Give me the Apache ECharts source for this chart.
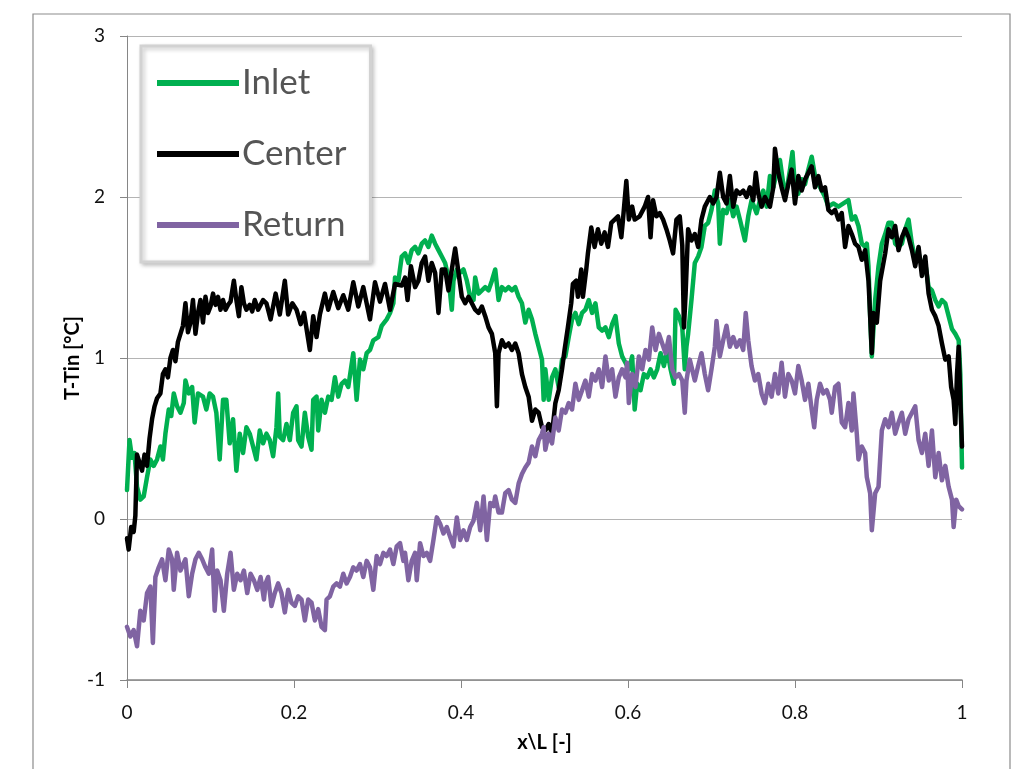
<!DOCTYPE html>
<html>
<head>
<meta charset="utf-8">
<script src="https://cdn.jsdelivr.net/npm/echarts@6/dist/echarts.min.js"></script>
<style>
  html, body { margin: 0; padding: 0; background: #ffffff; }
  #chart { width: 1022px; height: 769px; }
</style>
</head>
<body>
<div id="chart"></div>
<script>
// Temperature rise along the channel, T - Tin, against normalised position x/L.
const seriesNames = ['Inlet', 'Center', 'Return'];
const xTicks = [0, 0.2, 0.4, 0.6, 0.8, 1];
const yTicks = [-1, 0, 1, 2, 3];

const inlet = [
  [0.000,0.18],[0.003,0.49],[0.006,0.38],[0.009,0.41],[0.012,0.20],[0.016,0.12],[0.020,0.14],[0.024,0.26],[0.028,0.37],[0.032,0.33],
  [0.036,0.37],[0.040,0.45],[0.043,0.37],[0.046,0.53],[0.050,0.68],[0.053,0.64],[0.056,0.78],[0.060,0.70],[0.064,0.66],[0.068,0.72],
  [0.070,0.86],[0.074,0.78],[0.078,0.82],[0.081,0.60],[0.085,0.78],[0.091,0.76],[0.095,0.68],[0.099,0.78],[0.103,0.76],[0.107,0.66],
  [0.111,0.37],[0.115,0.74],[0.119,0.74],[0.123,0.47],[0.127,0.62],[0.131,0.30],[0.135,0.53],[0.139,0.41],[0.143,0.57],[0.147,0.53],
  [0.151,0.45],[0.155,0.37],[0.159,0.55],[0.163,0.47],
  [0.167,0.53],[0.171,0.49],[0.175,0.39],[0.179,0.57],[0.181,0.78],[0.183,0.51],[0.187,0.49],[0.191,0.59],[0.195,0.49],[0.199,0.66],
  [0.203,0.70],[0.205,0.49],[0.209,0.45],[0.213,0.66],[0.217,0.51],[0.221,0.43],[0.223,0.74],[0.227,0.76],[0.229,0.55],[0.233,0.74],
  [0.237,0.66],[0.241,0.76],[0.245,0.74],[0.249,0.88],[0.253,0.76],[0.257,0.84],[0.261,0.86],[0.265,0.82],[0.271,1.03],[0.275,0.74],
  [0.279,0.99],[0.283,0.93],[0.287,1.03],[0.291,1.05],[0.295,1.11],[0.301,1.13],[0.305,1.20],[0.311,1.24],[0.315,1.28],[0.319,1.34],
  [0.321,1.50],[0.325,1.48],[0.329,1.63],
  [0.333,1.65],[0.337,1.59],[0.341,1.67],[0.345,1.69],[0.349,1.65],[0.353,1.71],[0.357,1.73],[0.361,1.69],[0.365,1.76],[0.369,1.71],
  [0.373,1.67],[0.377,1.63],[0.381,1.59],[0.385,1.50],[0.389,1.30],[0.391,1.48],[0.395,1.55],[0.399,1.53],[0.403,1.55],[0.407,1.48],
  [0.411,1.38],[0.415,1.36],[0.417,1.50],[0.421,1.40],[0.425,1.42],[0.429,1.44],[0.433,1.42],[0.437,1.48],[0.441,1.55],[0.445,1.36],
  [0.449,1.44],[0.453,1.42],[0.457,1.44],[0.461,1.42],[0.465,1.44],[0.469,1.38],[0.473,1.34],[0.477,1.22],[0.481,1.30],[0.485,1.24],
  [0.489,1.15],[0.493,1.07],[0.497,0.99],[0.499,0.74],
  [0.501,0.93],[0.505,0.74],[0.509,0.88],[0.513,0.93],[0.517,0.82],[0.521,0.99],[0.525,1.01],[0.529,1.13],[0.533,1.24],[0.537,1.28],
  [0.541,1.21],[0.545,1.28],[0.549,1.30],[0.553,1.36],[0.557,1.28],[0.561,1.34],[0.565,1.19],[0.569,1.17],[0.573,1.19],[0.577,1.13],
  [0.581,1.21],[0.585,1.26],[0.589,1.09],[0.593,1.01],[0.597,0.97],[0.601,0.93],[0.605,1.01],[0.608,0.68],[0.611,0.84],[0.615,0.80],
  [0.619,0.90],[0.623,0.88],[0.627,0.93],[0.631,0.88],[0.635,0.93],[0.639,1.03],[0.643,0.95],[0.647,1.05],[0.651,0.93],[0.655,0.84],
  [0.657,1.30],[0.661,1.26],[0.665,1.19],[0.668,0.93],
  [0.670,1.07],[0.672,1.15],[0.676,1.36],[0.680,1.59],[0.684,1.63],[0.688,1.69],[0.692,1.82],[0.696,1.84],[0.700,1.92],[0.704,2.04],
  [0.708,1.96],[0.710,1.71],[0.714,1.92],[0.718,1.90],[0.722,1.98],[0.726,1.88],[0.730,1.94],[0.734,1.86],[0.740,1.73],[0.744,1.88],
  [0.748,1.98],[0.754,1.90],[0.758,1.98],[0.762,2.04],[0.766,1.94],[0.770,2.13],[0.774,2.06],[0.778,2.15],[0.782,2.23],[0.786,2.08],
  [0.790,2.04],[0.794,2.17],[0.797,2.28],[0.800,2.06],[0.804,2.02],[0.808,2.11],[0.812,2.08],[0.816,2.17],[0.820,2.25],[0.824,2.13],
  [0.828,2.08],[0.832,2.04],[0.836,2.00],
  [0.840,1.94],[0.846,1.96],[0.852,1.94],[0.858,1.96],[0.864,1.98],[0.868,1.86],[0.872,1.88],[0.876,1.82],[0.880,1.71],[0.884,1.69],
  [0.886,1.71],[0.888,1.57],[0.890,1.26],[0.892,1.01],[0.896,1.36],[0.900,1.57],[0.904,1.71],[0.908,1.77],[0.912,1.84],[0.916,1.84],
  [0.920,1.71],[0.924,1.69],[0.928,1.71],[0.932,1.80],[0.936,1.86],[0.940,1.71],[0.944,1.61],[0.948,1.65],[0.952,1.57],[0.956,1.59],
  [0.960,1.44],[0.964,1.42],[0.968,1.36],[0.972,1.32],[0.976,1.36],[0.980,1.34],[0.984,1.26],[0.988,1.18],[0.992,1.15],[0.996,1.11],
  [0.998,0.90],[1.000,0.32]
];

const center = [
  [0.000,-0.12],[0.002,-0.19],[0.005,-0.05],[0.008,-0.08],[0.010,0.02],[0.012,0.40],[0.015,0.35],[0.018,0.30],[0.021,0.40],[0.024,0.33],
  [0.027,0.50],[0.030,0.62],[0.033,0.70],[0.036,0.75],[0.040,0.78],[0.043,0.90],[0.046,0.93],[0.049,0.88],[0.052,1.00],[0.055,1.05],
  [0.058,0.98],[0.061,1.10],[0.064,1.15],[0.067,1.20],[0.070,1.34],[0.073,1.16],[0.076,1.22],[0.079,1.36],[0.082,1.15],[0.085,1.28],
  [0.088,1.36],[0.091,1.22],[0.094,1.38],[0.097,1.28],[0.100,1.32],[0.103,1.40],[0.106,1.33],[0.109,1.38],[0.112,1.30],[0.115,1.36],
  [0.118,1.30],[0.121,1.33],[0.124,1.35],[0.128,1.48],[0.131,1.36],[0.134,1.26],[0.137,1.44],[0.140,1.34],[0.143,1.30],[0.147,1.33],
  [0.150,1.29],[0.153,1.36],[0.157,1.30],[0.160,1.33],[0.163,1.36],
  [0.167,1.34],[0.172,1.24],[0.178,1.40],[0.183,1.27],[0.189,1.48],[0.193,1.27],[0.198,1.34],[0.203,1.30],[0.208,1.21],[0.212,1.28],
  [0.219,1.05],[0.223,1.26],[0.227,1.13],[0.231,1.27],[0.237,1.40],[0.241,1.30],[0.247,1.41],[0.253,1.31],[0.259,1.39],[0.265,1.30],
  [0.271,1.47],[0.277,1.32],[0.283,1.44],[0.291,1.24],[0.297,1.47],[0.303,1.35],[0.309,1.46],[0.315,1.30],[0.321,1.46],[0.329,1.45],
  [0.333,1.50],[0.336,1.36],[0.340,1.57],[0.345,1.44],[0.349,1.48],[0.353,1.59],[0.357,1.63],[0.361,1.48],[0.365,1.59],[0.369,1.53],
  [0.373,1.28],[0.377,1.55],[0.381,1.55],[0.385,1.42],[0.389,1.55],[0.393,1.68],[0.397,1.53],[0.401,1.38],[0.405,1.34],[0.409,1.38],
  [0.413,1.34],[0.417,1.30],[0.421,1.28],[0.425,1.32],[0.429,1.26],[0.433,1.19],[0.437,1.15],[0.441,1.03],[0.443,0.70],[0.445,1.03],
  [0.449,1.11],[0.453,1.07],[0.457,1.09],[0.461,1.05],[0.465,1.09],[0.469,1.03],[0.473,0.90],[0.477,0.82],[0.481,0.76],[0.485,0.61],
  [0.489,0.68],[0.493,0.66],[0.497,0.57],
  [0.501,0.55],[0.505,0.59],[0.509,0.53],[0.513,0.72],[0.517,0.80],[0.521,0.93],[0.524,1.05],[0.528,1.19],[0.532,1.34],[0.534,1.46],
  [0.538,1.48],[0.540,1.38],[0.544,1.55],[0.546,1.38],[0.550,1.55],[0.552,1.65],[0.556,1.81],[0.560,1.69],[0.564,1.80],[0.568,1.71],
  [0.572,1.78],[0.576,1.69],[0.580,1.84],[0.584,1.86],[0.588,1.88],[0.592,1.75],[0.594,1.86],[0.598,2.10],[0.601,1.86],[0.605,1.94],
  [0.608,1.86],[0.614,1.88],[0.620,1.94],[0.624,2.00],[0.627,1.75],[0.630,1.98],[0.634,1.88],[0.638,1.90],[0.642,1.86],[0.646,1.80],
  [0.650,1.73],[0.654,1.65],[0.658,1.86],[0.662,1.88],[0.665,1.70],[0.667,1.19],[0.669,1.40],
  [0.672,1.80],[0.676,1.73],[0.680,1.77],[0.684,1.69],[0.688,1.86],[0.692,1.94],[0.698,2.00],[0.702,1.96],[0.706,2.00],[0.710,2.15],
  [0.714,2.00],[0.718,1.96],[0.722,2.13],[0.726,1.94],[0.730,2.04],[0.734,2.02],[0.738,2.04],[0.742,2.00],[0.746,2.06],[0.750,1.98],
  [0.753,2.15],[0.756,2.02],[0.760,1.94],[0.764,2.00],[0.770,1.94],[0.774,2.06],[0.776,2.30],[0.780,2.15],[0.784,2.06],[0.788,1.98],
  [0.792,2.08],[0.796,2.17],[0.800,1.96],[0.804,2.13],[0.808,2.04],[0.812,2.11],[0.816,2.15],[0.820,2.19],[0.824,2.06],[0.828,2.13],
  [0.832,2.04],[0.836,2.06],
  [0.840,1.92],[0.844,1.90],[0.848,1.92],[0.852,1.86],[0.856,1.90],[0.860,1.69],[0.864,1.82],[0.868,1.77],[0.872,1.71],[0.876,1.69],
  [0.880,1.61],[0.884,1.67],[0.888,1.48],[0.890,1.26],[0.892,1.03],[0.894,1.28],[0.898,1.22],[0.902,1.48],[0.908,1.65],[0.912,1.80],
  [0.916,1.75],[0.920,1.82],[0.924,1.67],[0.928,1.75],[0.932,1.80],[0.936,1.75],[0.940,1.67],[0.944,1.57],[0.948,1.69],[0.952,1.51],
  [0.956,1.63],[0.960,1.40],[0.964,1.30],[0.968,1.26],[0.972,1.20],[0.976,1.09],[0.980,0.99],[0.984,1.01],[0.987,0.82],[0.990,0.74],
  [0.992,0.59],[0.994,0.90],[0.996,1.07],[0.998,0.74],[1.000,0.45]
];

const returnFlow = [
  [0.000,-0.67],[0.004,-0.73],[0.008,-0.69],[0.012,-0.79],[0.016,-0.57],[0.020,-0.63],[0.024,-0.46],[0.028,-0.42],[0.031,-0.77],[0.034,-0.36],
  [0.038,-0.30],[0.042,-0.25],[0.046,-0.38],[0.050,-0.19],[0.054,-0.25],[0.056,-0.44],[0.060,-0.21],[0.064,-0.32],[0.070,-0.25],[0.074,-0.48],
  [0.078,-0.34],[0.082,-0.25],[0.086,-0.21],[0.090,-0.25],[0.094,-0.30],[0.098,-0.34],[0.102,-0.19],[0.105,-0.57],[0.108,-0.32],[0.112,-0.38],
  [0.116,-0.57],[0.120,-0.34],[0.124,-0.21],[0.128,-0.44],[0.132,-0.34],[0.136,-0.38],[0.140,-0.32],[0.144,-0.46],[0.148,-0.34],[0.152,-0.38],
  [0.156,-0.44],[0.160,-0.36],[0.164,-0.50],
  [0.166,-0.40],[0.169,-0.36],[0.173,-0.54],[0.177,-0.46],[0.181,-0.40],[0.185,-0.46],[0.189,-0.58],[0.193,-0.44],[0.197,-0.52],[0.201,-0.54],
  [0.205,-0.48],[0.209,-0.50],[0.213,-0.63],[0.217,-0.50],[0.221,-0.52],[0.225,-0.63],[0.229,-0.56],[0.233,-0.67],[0.237,-0.69],[0.239,-0.50],
  [0.243,-0.48],[0.247,-0.42],[0.251,-0.40],[0.255,-0.42],[0.259,-0.34],[0.263,-0.40],[0.267,-0.36],[0.271,-0.30],[0.275,-0.32],[0.279,-0.28],
  [0.283,-0.36],[0.287,-0.26],[0.291,-0.30],[0.295,-0.44],[0.299,-0.23],[0.303,-0.28],[0.307,-0.21],[0.311,-0.23],[0.315,-0.19],[0.319,-0.28],
  [0.323,-0.17],[0.327,-0.15],[0.331,-0.26],
  [0.333,-0.21],[0.337,-0.38],[0.341,-0.26],[0.345,-0.21],[0.347,-0.38],[0.351,-0.15],[0.355,-0.23],[0.359,-0.21],[0.363,-0.26],[0.367,-0.13],
  [0.371,0.01],[0.375,-0.03],[0.379,-0.09],[0.383,-0.05],[0.387,-0.11],[0.391,-0.17],[0.395,0.01],[0.399,-0.13],[0.403,-0.07],[0.407,-0.13],
  [0.411,-0.05],[0.415,-0.01],[0.419,0.10],[0.423,-0.07],[0.427,0.14],[0.431,-0.13],[0.435,0.10],[0.439,0.08],[0.441,0.14],[0.445,0.04],
  [0.449,0.04],[0.453,0.16],[0.457,0.18],[0.461,0.12],[0.465,0.10],[0.469,0.22],[0.473,0.28],[0.477,0.32],[0.481,0.35],[0.485,0.45],
  [0.489,0.39],[0.493,0.49],[0.497,0.53],[0.499,0.57],
  [0.501,0.43],[0.505,0.53],[0.509,0.47],[0.513,0.63],[0.517,0.55],[0.521,0.68],[0.525,0.66],[0.529,0.72],[0.533,0.68],[0.537,0.84],
  [0.541,0.74],[0.545,0.80],[0.549,0.86],[0.553,0.76],[0.557,0.90],[0.561,0.86],[0.565,0.93],[0.569,0.82],[0.573,1.01],[0.577,0.86],
  [0.581,0.93],[0.585,0.76],[0.589,0.88],[0.593,0.93],[0.597,0.88],[0.599,0.97],[0.601,0.72],[0.605,0.90],[0.609,0.82],[0.613,1.01],
  [0.617,0.93],[0.621,1.05],[0.625,0.99],[0.629,1.19],[0.633,1.05],[0.637,1.15],[0.641,1.09],[0.645,1.03],[0.649,1.13],[0.653,0.93],
  [0.657,0.88],[0.661,0.90],[0.665,0.86],[0.668,0.66],
  [0.670,0.86],[0.674,0.99],[0.680,0.86],[0.684,0.95],[0.688,1.03],[0.692,0.90],[0.696,0.80],[0.700,0.93],[0.704,1.07],[0.706,1.23],
  [0.710,1.01],[0.714,1.11],[0.718,1.20],[0.722,1.07],[0.726,1.13],[0.730,1.07],[0.734,1.11],[0.738,1.05],[0.741,1.28],[0.744,1.11],
  [0.748,0.95],[0.752,0.86],[0.756,0.90],[0.760,0.78],[0.764,0.72],[0.768,0.84],[0.772,0.76],[0.776,0.90],[0.780,0.78],[0.784,0.97],
  [0.788,0.76],[0.792,0.90],[0.796,0.86],[0.800,0.78],[0.804,0.95],[0.808,0.86],[0.812,0.74],[0.816,0.84],[0.820,0.68],[0.823,0.57],
  [0.826,0.74],[0.830,0.84],[0.834,0.78],
  [0.838,0.80],[0.842,0.74],[0.844,0.66],[0.848,0.82],[0.852,0.84],[0.856,0.60],[0.860,0.57],[0.864,0.72],[0.868,0.55],[0.870,0.78],
  [0.874,0.53],[0.876,0.37],[0.880,0.45],[0.884,0.41],[0.886,0.26],[0.890,0.16],[0.892,-0.07],[0.896,0.16],[0.900,0.20],[0.904,0.55],
  [0.908,0.62],[0.912,0.57],[0.916,0.66],[0.920,0.53],[0.924,0.60],[0.928,0.66],[0.932,0.53],[0.936,0.62],[0.940,0.66],[0.944,0.70],
  [0.948,0.49],[0.952,0.41],[0.956,0.53],[0.960,0.33],[0.964,0.55],[0.968,0.26],[0.972,0.41],[0.976,0.24],[0.980,0.33],[0.984,0.20],
  [0.988,0.12],[0.990,-0.05],[0.993,0.12],[0.996,0.08],[1.000,0.06]
];

const colors = ['#00B050', '#000000', '#8064A2'];
const fontFamily = 'Lato, "Open Sans", "Liberation Sans", sans-serif';

const chart = echarts.init(document.getElementById('chart'), null, { renderer: 'canvas' });

const lineSeries = [inlet, center, returnFlow].map((data, i) => ({
  name: seriesNames[i],
  type: 'line',
  data: data,
  showSymbol: false,
  symbol: 'none',
  smooth: false,
  lineStyle: { width: 4.5, color: colors[i], join: 'round', cap: 'round' },
  itemStyle: { color: colors[i] },
  z: 2 + i
}));

chart.setOption({
  animation: false,
  backgroundColor: '#ffffff',
  textStyle: { fontFamily: fontFamily },
  graphic: [{
    type: 'rect',
    shape: { x: 33, y: 14, width: 977, height: 800 },
    style: { fill: 'none', stroke: '#8c8c8c', lineWidth: 1.2 },
    silent: true,
    z: -10
  }],
  grid: { left: 127, right: 60, top: 36, bottom: 89, containLabel: false },
  legend: {
    data: seriesNames,
    orient: 'vertical',
    left: 141,
    top: 46,
    icon: 'rect',
    itemWidth: 82,
    itemHeight: 6,
    itemGap: 31,
    padding: [17, 24, 17, 16],
    backgroundColor: '#ffffff',
    borderColor: '#d2d2d2',
    borderWidth: 3,
    shadowColor: 'rgba(0,0,0,0.22)',
    shadowBlur: 4,
    shadowOffsetX: 2,
    shadowOffsetY: 2,
    textStyle: { fontSize: 35, color: '#555555', fontFamily: fontFamily, lineHeight: 40, padding: [0, 0, 0, -2] },
    selectedMode: false
  },
  xAxis: {
    type: 'value',
    min: xTicks[0],
    max: xTicks[xTicks.length - 1],
    interval: 0.2,
    name: 'x\\L [-]',
    nameLocation: 'middle',
    nameGap: 53,
    nameMoveOverlap: false,
    nameTextStyle: { fontSize: 20, fontWeight: 'bold', color: '#000000', fontFamily: fontFamily },
    axisLine: { show: true, onZero: false, lineStyle: { color: '#868686', width: 1.5 } },
    axisTick: { show: true, inside: false, length: 8, lineStyle: { color: '#868686', width: 1 } },
    axisLabel: { fontSize: 19, color: '#111111', margin: 23, fontFamily: fontFamily },
    splitLine: { show: false }
  },
  yAxis: {
    type: 'value',
    min: yTicks[0],
    max: yTicks[yTicks.length - 1],
    interval: 1,
    name: 'T-Tin [°C]',
    nameLocation: 'middle',
    nameGap: 44,
    nameMoveOverlap: false,
    nameRotate: 90,
    nameTextStyle: { fontSize: 20, fontWeight: 'bold', color: '#000000', fontFamily: fontFamily },
    axisLine: { show: true, lineStyle: { color: '#868686', width: 1 } },
    axisTick: { show: true, inside: false, length: 7, lineStyle: { color: '#868686', width: 1 } },
    axisLabel: { fontSize: 19, color: '#111111', margin: 22, fontFamily: fontFamily },
    splitLine: { show: true, lineStyle: { color: '#b4b4b4', width: 1.2 } }
  },
  series: lineSeries
});
</script>
</body>
</html>
